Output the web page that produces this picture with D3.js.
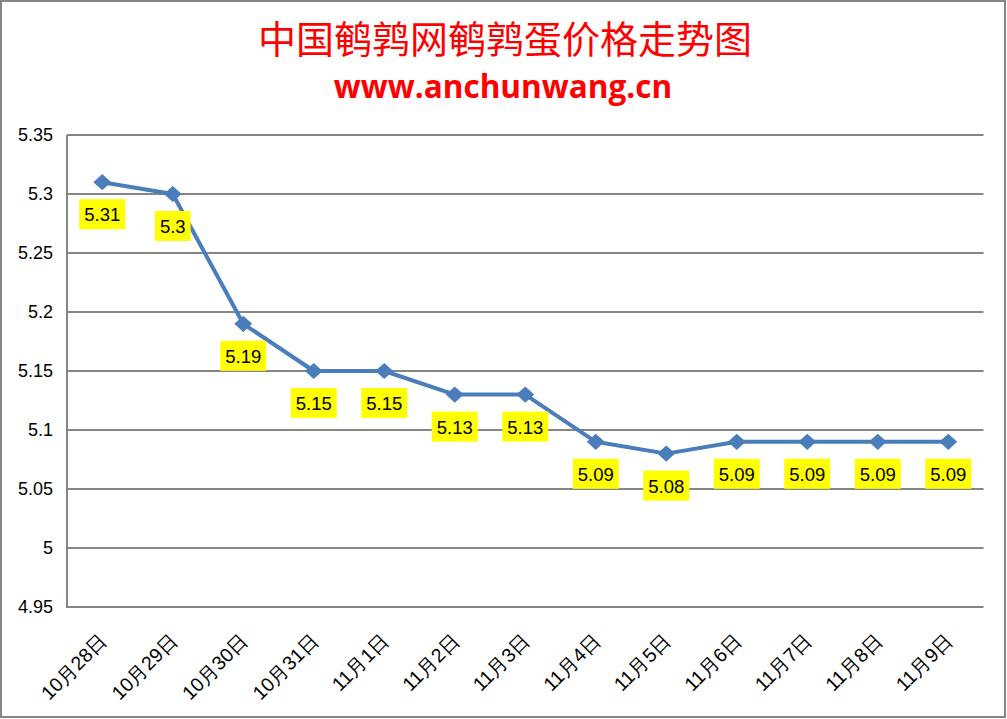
<!DOCTYPE html>
<html><head><meta charset="utf-8">
<script src="https://cdn.jsdelivr.net/npm/d3@7"></script>
<style>body{margin:0;background:#fff}svg{display:block}</style>
</head><body>
<svg id="c" width="1007" height="719"></svg>
<script>
const title = "中国鹌鹑网鹌鹑蛋价格走势图";
const subtitle = "www.anchunwang.cn";
const categories = ["10月28日","10月29日","10月30日","10月31日","11月1日","11月2日","11月3日","11月4日","11月5日","11月6日","11月7日","11月8日","11月9日"];
const values = [5.31,5.3,5.19,5.15,5.15,5.13,5.13,5.09,5.08,5.09,5.09,5.09,5.09];
const yTicks = [4.95,5,5.05,5.1,5.15,5.2,5.25,5.3,5.35];

const svg = d3.select("#c");
const W = 1007, H = 719;
svg.append("rect").attr("x",1).attr("y",1).attr("width",W-3).attr("height",H-3)
  .attr("fill","#fff").attr("stroke","#868686").attr("stroke-width",2);

const x = d3.scaleBand().domain(categories).range([67,983.5]);
const y = d3.scaleLinear().domain([4.95,5.35]).range([607,135]);

svg.append("text").attr("x",505).attr("y",53).attr("text-anchor","middle")
  .attr("font-family","'Noto Sans CJK SC'").attr("font-size",38).attr("fill","#ff0000").text(title);
svg.append("text").attr("x",503).attr("y",98).attr("text-anchor","middle")
  .attr("font-family","'Open Sans'").attr("font-weight","bold").attr("font-size",31.5).attr("fill","#ff0000").text(subtitle);

// gridlines
svg.append("g").selectAll("line").data(yTicks).join("line")
  .attr("x1",67).attr("x2",983.5).attr("y1",d=>y(d)).attr("y2",d=>y(d))
  .attr("stroke","#868686").attr("stroke-width",2);
svg.append("line").attr("x1",67).attr("x2",67).attr("y1",135).attr("y2",608)
  .attr("stroke","#868686").attr("stroke-width",2);

// y axis
const ya = svg.append("g").attr("transform","translate(67,0)")
  .call(d3.axisLeft(y).tickValues(yTicks).tickSize(0).tickPadding(14).tickFormat(d=>String(+d.toFixed(2))));
ya.select(".domain").remove();
ya.selectAll("text").attr("font-family","'Liberation Sans', Arial").attr("font-size",18).attr("fill","#000");

// x axis
const xa = svg.append("g").attr("transform","translate(0,607)")
  .call(d3.axisBottom(x).tickSize(0).tickPadding(0));
xa.select(".domain").remove();
xa.selectAll("text").attr("font-family","'Liberation Sans', Arial").attr("font-size",19.5).attr("fill","#000")
  .attr("text-anchor","end").attr("dy",0)
  .attr("transform","translate(6,35) rotate(-45)");

// line
const cx = d => x(d) + x.bandwidth()/2;
const line = d3.line().x((d,i)=>cx(categories[i])).y(d=>y(d));
svg.append("path").datum(values).attr("d",line).attr("fill","none")
  .attr("stroke","#4a7ebb").attr("stroke-width",4).attr("stroke-linejoin","round");
svg.append("g").selectAll("path").data(values).join("path")
  .attr("d",d3.symbol(d3.symbolSquare,145)())
  .attr("transform",(d,i)=>`translate(${cx(categories[i])},${y(d)}) scale(1.05,0.95) rotate(45)`)
  .attr("fill","#4a7ebb");

// labels
const lg = svg.append("g").selectAll("g").data(values).join("g")
  .attr("transform",(d,i)=>`translate(${cx(categories[i])},${y(d)+17})`);
lg.append("text").attr("text-anchor","middle").attr("y",22)
  .attr("font-family","'Liberation Sans', Arial").attr("font-size",18.5).attr("fill","#000")
  .text(d=>String(d));
lg.each(function(){
  const g = d3.select(this), t = g.select("text"), bb = t.node().getBBox();
  g.insert("rect","text").attr("x",-bb.width/2-5).attr("y",0).attr("width",bb.width+10).attr("height",30).attr("fill","#ffff00");
});
</script>
</body></html>
